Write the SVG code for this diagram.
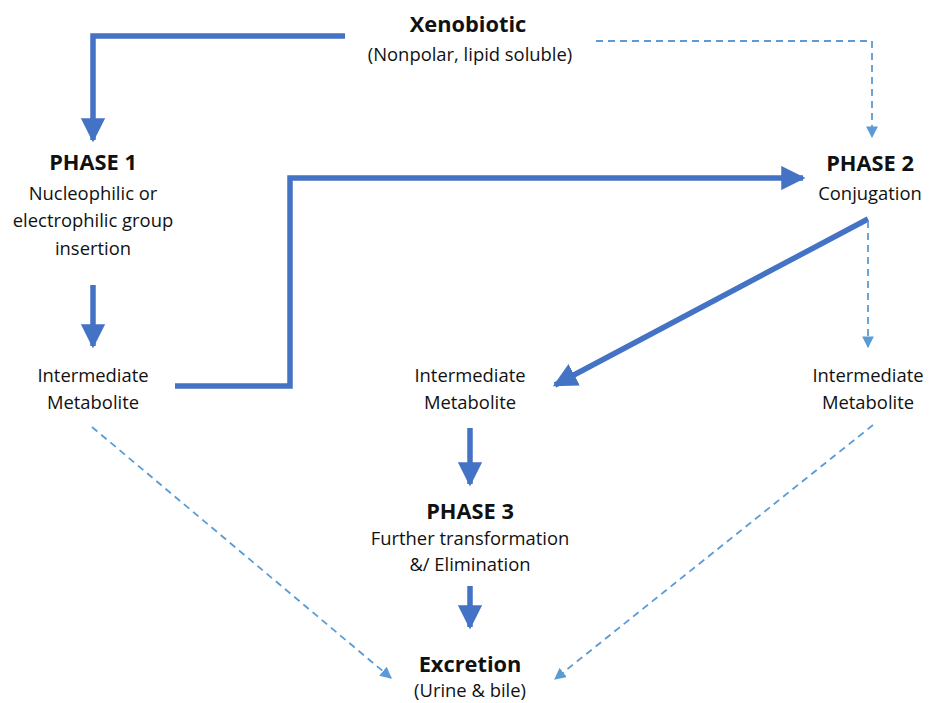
<svg xmlns="http://www.w3.org/2000/svg" width="929" height="703" viewBox="0 0 929 703">
<defs>
<style>
text{font-family:"Open Sans","Liberation Sans",sans-serif;fill:#111;text-anchor:middle}
.t{font-size:18.4px}
.b{font-size:21.8px;font-weight:bold}
.thick{fill:none;stroke:#4472C4;stroke-width:5.5}
.dash{fill:none;stroke:#5B9BD5;stroke-width:1.8;stroke-dasharray:7,5}
</style>
<marker id="ah" viewBox="0 0 10 10" refX="9" refY="5" markerWidth="4.4" markerHeight="4.4" orient="auto" markerUnits="strokeWidth">
<path d="M0,0 L10,5 L0,10 z" fill="#4472C4"/>
</marker>
<marker id="ad" viewBox="0 0 10 10" refX="9" refY="5" markerWidth="6.5" markerHeight="6.5" orient="auto" markerUnits="strokeWidth">
<path d="M0,0 L10,5 L0,10 z" fill="#5B9BD5"/>
</marker>
</defs>
<rect width="929" height="703" fill="#fff"/>
<g id="connectors">
<path class="thick" d="M345,36 H93 V140" marker-end="url(#ah)"/>
<path class="dash" d="M596,41 H872 V137" marker-end="url(#ad)"/>
<path class="thick" d="M93,285 V346" marker-end="url(#ah)"/>
<path class="thick" d="M175,386 H290 V178 H803" marker-end="url(#ah)"/>
<path class="thick" d="M868,219 L555,385" marker-end="url(#ah)"/>
<path class="dash" d="M868,221 V347" marker-end="url(#ad)"/>
<path class="thick" d="M470,428 V484" marker-end="url(#ah)"/>
<path class="thick" d="M470,586 V627" marker-end="url(#ah)"/>
<path class="dash" d="M92,427 L391,678" marker-end="url(#ad)"/>
<path class="dash" d="M873,425 L555,679" marker-end="url(#ad)"/>
</g>
<g id="xenobiotic">
<text class="b" x="468" y="32">Xenobiotic</text>
<text class="t" x="470" y="61">(Nonpolar, lipid soluble)</text>
</g>
<g id="phase1">
<text class="b" x="93" y="170">PHASE 1</text>
<text class="t" x="93" y="200">Nucleophilic or</text>
<text class="t" x="93" y="227">electrophilic group</text>
<text class="t" x="93" y="255">insertion</text>
</g>
<g id="intermediate-left">
<text class="t" x="93" y="382">Intermediate</text>
<text class="t" x="93" y="409">Metabolite</text>
</g>
<g id="phase2">
<text class="b" x="870" y="171">PHASE 2</text>
<text class="t" x="870" y="200">Conjugation</text>
</g>
<g id="intermediate-middle">
<text class="t" x="470" y="382">Intermediate</text>
<text class="t" x="470" y="409">Metabolite</text>
</g>
<g id="intermediate-right">
<text class="t" x="868" y="382">Intermediate</text>
<text class="t" x="868" y="409">Metabolite</text>
</g>
<g id="phase3">
<text class="b" x="470" y="519">PHASE 3</text>
<text class="t" x="470" y="545">Further transformation</text>
<text class="t" x="470" y="571">&amp;/ Elimination</text>
</g>
<g id="excretion">
<text class="b" x="470" y="672">Excretion</text>
<text class="t" x="470" y="697">(Urine &amp; bile)</text>
</g>
</svg>
